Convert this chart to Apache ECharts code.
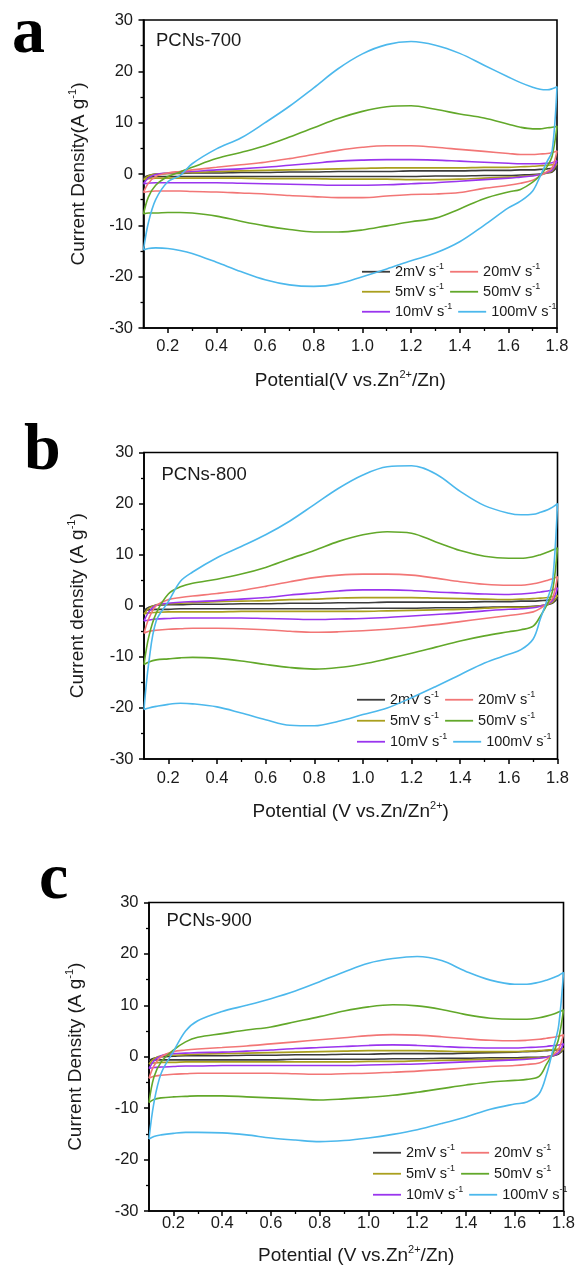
<!DOCTYPE html>
<html>
<head>
<meta charset="utf-8">
<title>PCNs cyclic voltammetry</title>
<script src="https://cdn.jsdelivr.net/npm/echarts@6/dist/echarts.min.js"></script>
<style>
  html, body { margin: 0; padding: 0; background: #ffffff; }
  #chart { width: 576px; height: 1276px; }
</style>
</head>
<body>
<div id="chart"></div>
<script>
// Potential grid (V) shared by the anodic (forward) and cathodic (reverse) branches
const POTENTIAL = [0.1, 0.12, 0.15, 0.2, 0.25, 0.3, 0.4, 0.5, 0.6, 0.7, 0.8, 0.9, 1.0,
  1.1, 1.2, 1.3, 1.4, 1.5, 1.6, 1.65, 1.7, 1.73, 1.76, 1.78, 1.8];

// Scan rates, in drawing order
const RATES = ['2mV s-1', '5mV s-1', '10mV s-1', '20mV s-1', '50mV s-1', '100mV s-1'];

// Axis ticks
const X_TICKS = [0.2, 0.4, 0.6, 0.8, 1.0, 1.2, 1.4, 1.6, 1.8];
const X_MINOR_TICKS = [0.3, 0.5, 0.7, 0.9, 1.1, 1.3, 1.5, 1.7];

// PCNs-700: current density (A g-1), one row per scan rate
const PCN700_ANODIC = [
  [-0.7, -0.3, 0.0, 0.1, 0.1, 0.2, 0.2, 0.3, 0.3, 0.4, 0.4, 0.5, 0.5, 0.5, 0.6, 0.6, 0.6, 0.7, 0.7, 0.8, 0.8, 0.9, 1.0, 1.1, 1.3],
  [-1.1, -0.4, 0.0, 0.1, 0.2, 0.3, 0.5, 0.6, 0.7, 0.8, 0.9, 1.0, 1.1, 1.2, 1.2, 1.2, 1.2, 1.3, 1.3, 1.4, 1.5, 1.6, 1.7, 1.8, 2.0],
  [-1.9, -0.8, -0.1, 0.2, 0.4, 0.5, 0.8, 1.0, 1.3, 1.7, 2.1, 2.5, 2.7, 2.8, 2.8, 2.7, 2.5, 2.3, 2.1, 2.0, 2.0, 2.0, 2.1, 2.2, 2.6],
  [-3.6, -1.8, -0.5, 0.2, 0.5, 0.8, 1.3, 1.8, 2.3, 3.0, 3.8, 4.6, 5.2, 5.5, 5.5, 5.2, 4.8, 4.4, 4.0, 3.8, 3.8, 3.9, 4.0, 4.2, 4.5],
  [-7.8, -4.5, -2.2, -0.5, 0.4, 1.3, 3.0, 4.2, 5.5, 7.2, 9.0, 10.8, 12.2, 13.1, 13.3, 12.6, 11.7, 10.9, 9.7, 9.1, 8.8, 8.8, 9.0, 9.1, 9.3],
  [-14.8, -9.5, -5.0, -1.5, -0.3, 2.0, 4.9, 7.0, 10.0, 13.2, 16.8, 20.5, 23.4, 25.2, 25.8, 25.1, 23.5, 21.2, 18.9, 17.8, 16.9, 16.5, 16.4, 16.6, 17.0]
];
const PCN700_CATHODIC = [
  [-0.7, -0.6, -0.5, -0.5, -0.5, -0.5, -0.5, -0.5, -0.5, -0.5, -0.5, -0.5, -0.5, -0.5, -0.5, -0.4, -0.4, -0.3, -0.3, -0.2, -0.1, 0.0, 0.2, 0.4, 1.3],
  [-1.1, -0.9, -0.8, -0.8, -0.8, -0.8, -0.8, -0.8, -0.9, -0.9, -0.9, -1.0, -1.0, -1.0, -1.1, -1.1, -1.0, -0.8, -0.6, -0.5, -0.3, -0.1, 0.2, 0.6, 2.0],
  [-1.9, -1.8, -1.7, -1.7, -1.7, -1.7, -1.7, -1.8, -1.9, -2.0, -2.1, -2.2, -2.2, -2.1, -1.9, -1.7, -1.4, -1.1, -0.8, -0.6, -0.4, -0.1, 0.3, 0.8, 2.6],
  [-3.6, -3.4, -3.3, -3.3, -3.3, -3.4, -3.5, -3.7, -3.9, -4.2, -4.4, -4.6, -4.6, -4.3, -4.0, -3.9, -3.6, -2.8, -2.2, -1.8, -1.2, -0.4, 0.5, 1.2, 4.5],
  [-7.8, -7.6, -7.6, -7.5, -7.5, -7.6, -8.2, -9.2, -10.1, -10.8, -11.3, -11.3, -10.9, -10.1, -9.3, -8.6, -6.8, -4.8, -3.5, -3.0, -1.6, -0.3, 1.5, 3.5, 9.3],
  [-14.8, -14.5, -14.4, -14.5, -14.9, -15.5, -17.2, -19.0, -20.6, -21.6, -21.9, -21.4, -20.0, -18.5, -16.9, -15.4, -13.2, -10.0, -6.6, -5.3, -3.3, -0.5, 2.5, 4.5, 17.0]
];

// PCNs-800
const PCN800_ANODIC = [
  [-0.9, -0.3, 0.1, 0.2, 0.2, 0.3, 0.3, 0.4, 0.4, 0.5, 0.5, 0.6, 0.6, 0.7, 0.7, 0.7, 0.7, 0.8, 0.8, 0.9, 0.9, 1.0, 1.1, 1.2, 1.4],
  [-1.6, -0.5, 0.2, 0.4, 0.5, 0.6, 0.8, 0.9, 1.0, 1.2, 1.3, 1.5, 1.6, 1.6, 1.6, 1.5, 1.4, 1.3, 1.2, 1.3, 1.4, 1.5, 1.6, 1.8, 2.0],
  [-3.0, -1.2, 0.1, 0.5, 0.7, 0.8, 1.0, 1.3, 1.6, 2.1, 2.5, 2.9, 3.1, 3.1, 3.0, 2.7, 2.5, 2.3, 2.2, 2.3, 2.5, 2.7, 2.9, 3.1, 3.5],
  [-5.4, -2.5, 0.0, 1.2, 1.6, 1.9, 2.4, 3.0, 3.8, 4.7, 5.5, 6.0, 6.2, 6.2, 6.0, 5.4, 4.7, 4.2, 4.0, 4.0, 4.3, 4.6, 5.0, 5.3, 5.7],
  [-11.5, -6.0, -1.5, 2.3, 3.7, 4.4, 5.2, 6.2, 7.5, 9.2, 10.8, 12.6, 13.9, 14.5, 14.2, 12.5, 10.8, 9.7, 9.3, 9.3, 9.6, 10.0, 10.5, 10.9, 11.3],
  [-20.3, -11.0, -3.0, 0.8, 4.8, 6.6, 9.4, 11.6, 13.9, 16.6, 19.8, 23.0, 25.6, 27.2, 27.4, 25.8, 22.4, 19.6, 18.1, 17.8, 17.9, 18.3, 18.8, 19.3, 20.0]
];
const PCN800_CATHODIC = [
  [-0.9, -0.8, -0.7, -0.7, -0.6, -0.6, -0.6, -0.6, -0.6, -0.6, -0.6, -0.6, -0.5, -0.5, -0.5, -0.4, -0.4, -0.3, -0.2, -0.2, -0.1, 0.0, 0.2, 0.5, 1.4],
  [-1.6, -1.4, -1.3, -1.2, -1.2, -1.2, -1.2, -1.1, -1.1, -1.1, -1.1, -1.1, -1.1, -1.0, -0.9, -0.8, -0.7, -0.5, -0.3, -0.3, -0.2, 0.0, 0.3, 0.7, 2.0],
  [-3.0, -2.8, -2.6, -2.5, -2.4, -2.4, -2.4, -2.4, -2.5, -2.6, -2.7, -2.6, -2.5, -2.3, -2.0, -1.7, -1.4, -1.0, -0.7, -0.6, -0.4, -0.1, 0.4, 1.0, 3.5],
  [-5.4, -5.0, -4.8, -4.6, -4.5, -4.4, -4.4, -4.5, -4.7, -5.0, -5.2, -5.1, -4.9, -4.6, -4.2, -3.7, -3.1, -2.5, -1.9, -1.6, -1.2, -0.5, 0.5, 1.5, 5.7],
  [-11.5, -11.0, -10.6, -10.4, -10.2, -10.1, -10.3, -10.8, -11.5, -12.1, -12.4, -12.1, -11.4, -10.4, -9.3, -8.1, -6.9, -5.9, -5.1, -4.7, -4.0, -2.0, 0.5, 3.0, 11.3],
  [-20.3, -20.0, -19.7, -19.3, -19.1, -19.2, -19.8, -21.0, -22.3, -23.4, -23.5, -22.6, -21.3, -20.0, -18.0, -15.8, -13.5, -11.2, -9.5, -8.6, -6.5, -2.5, 1.5, 5.0, 20.0]
];

// PCNs-900
const PCN900_ANODIC = [
  [-0.7, -0.3, 0.0, 0.1, 0.2, 0.2, 0.2, 0.3, 0.3, 0.4, 0.4, 0.5, 0.5, 0.6, 0.6, 0.6, 0.7, 0.8, 0.9, 1.0, 1.1, 1.2, 1.3, 1.3, 1.4],
  [-1.4, -0.4, 0.2, 0.3, 0.4, 0.5, 0.6, 0.7, 0.8, 0.9, 1.0, 1.1, 1.2, 1.2, 1.2, 1.1, 1.0, 1.0, 1.0, 1.1, 1.2, 1.3, 1.4, 1.5, 1.6],
  [-2.3, -0.8, 0.2, 0.6, 0.7, 0.8, 0.9, 1.1, 1.3, 1.6, 1.8, 2.0, 2.2, 2.3, 2.2, 2.0, 1.8, 1.7, 1.7, 1.8, 1.9, 2.0, 2.2, 2.3, 2.5],
  [-4.2, -1.8, 0.0, 1.0, 1.3, 1.5, 1.8, 2.1, 2.5, 2.9, 3.3, 3.7, 4.1, 4.3, 4.2, 3.9, 3.5, 3.2, 3.1, 3.2, 3.4, 3.6, 3.8, 4.0, 4.3],
  [-8.9, -4.0, -1.0, 1.3, 2.9, 3.8, 4.5, 5.2, 5.8, 6.8, 7.8, 8.9, 9.7, 10.1, 9.9, 9.2, 8.2, 7.5, 7.3, 7.3, 7.6, 7.9, 8.3, 8.7, 9.1],
  [-16.0, -9.0, -3.2, 1.0, 5.0, 7.0, 8.8, 10.0, 11.3, 12.8, 14.6, 16.5, 18.2, 19.1, 19.5, 18.7, 16.6, 14.9, 14.1, 14.1, 14.5, 14.9, 15.4, 15.8, 16.4]
];
const PCN900_CATHODIC = [
  [-0.7, -0.6, -0.6, -0.6, -0.6, -0.6, -0.6, -0.6, -0.6, -0.5, -0.5, -0.5, -0.5, -0.4, -0.4, -0.3, -0.3, -0.2, -0.2, -0.1, -0.1, 0.0, 0.2, 0.5, 1.4],
  [-1.4, -1.2, -1.1, -1.1, -1.0, -1.0, -1.0, -1.0, -1.0, -1.0, -1.0, -1.0, -0.9, -0.9, -0.8, -0.7, -0.6, -0.5, -0.4, -0.3, -0.2, 0.0, 0.3, 0.7, 1.6],
  [-2.3, -2.1, -2.0, -1.9, -1.8, -1.8, -1.7, -1.7, -1.7, -1.7, -1.7, -1.7, -1.6, -1.5, -1.4, -1.2, -1.0, -0.8, -0.6, -0.5, -0.3, -0.1, 0.3, 0.8, 2.5],
  [-4.2, -3.8, -3.6, -3.4, -3.3, -3.2, -3.2, -3.2, -3.2, -3.3, -3.4, -3.3, -3.2, -3.0, -2.8, -2.5, -2.2, -1.9, -1.7, -1.5, -1.2, -0.5, 0.5, 1.5, 4.3],
  [-8.9, -8.3, -8.0, -7.8, -7.7, -7.6, -7.6, -7.8, -8.0, -8.2, -8.4, -8.2, -7.9, -7.5, -6.9, -6.2, -5.5, -4.9, -4.6, -4.4, -3.8, -1.5, 1.0, 3.5, 9.1],
  [-16.0, -15.5, -15.2, -14.9, -14.7, -14.7, -14.8, -15.2, -15.8, -16.2, -16.5, -16.3, -15.8, -15.1, -14.2, -13.0, -11.7, -10.2, -9.2, -8.8, -7.2, -3.5, 2.0, 6.0, 16.4]
];

// Panel texts
const PANEL_TAGS = ['a', 'b', 'c'];
const SAMPLES = ['PCNs-700', 'PCNs-800', 'PCNs-900'];
const X_TITLES = [
  ['Potential(V vs.Zn', '2+', '/Zn)'],
  ['Potential (V vs.Zn/Zn', '2+', ')'],
  ['Potential (V vs.Zn', '2+', '/Zn)']
];
const Y_TITLES = [
  ['Current Density(A g', '-1', ')'],
  ['Current density (A g', '-1', ')'],
  ['Current Density (A g', '-1', ')']
];
const ANODIC = [PCN700_ANODIC, PCN800_ANODIC, PCN900_ANODIC];
const CATHODIC = [PCN700_CATHODIC, PCN800_CATHODIC, PCN900_CATHODIC];

// ---- styling and layout ----
const LINE_COLORS = ['#3c3c3c', '#aa9f1e', '#9a35ee', '#f27676', '#62a82a', '#4cb8ec'];
const FONT = '"Liberation Sans", Arial, sans-serif';
const LAYOUT = [
  { left: 143.5, right: 19, top: 20, height: 308, xMargin: 10, xGap: 41, yGap: 53.5,
    legendLeft: 362, legendRows: [272, 292, 312], tagX: 12, tagY: 53, sampleX: 156, sampleY: 41 },
  { left: 144, right: 18.5, top: 452.5, height: 306.5, xMargin: 10.5, xGap: 41.5, yGap: 55,
    legendLeft: 357, legendRows: [700, 721, 742], tagX: 24, tagY: 470, sampleX: 161.5, sampleY: 475 },
  { left: 149, right: 12.5, top: 902.5, height: 308.5, xMargin: 4, xGap: 33, yGap: 62,
    legendLeft: 373, legendRows: [1153, 1174, 1195], tagX: 39, tagY: 899, sampleX: 166.5, sampleY: 921 }
];

function supRich(size, supSize) {
  return {
    t: { fontSize: size, lineHeight: size + 4, fontFamily: FONT, color: '#1a1a1a' },
    s: { fontSize: supSize, lineHeight: supSize + 1, fontFamily: FONT, color: '#1a1a1a', verticalAlign: 'top' }
  };
}
function supText(parts) {
  return '{t|' + parts[0] + '}{s|' + parts[1] + '}' + (parts[2] ? '{t|' + parts[2] + '}' : '');
}

// closed CV loop: forward scan then reverse scan
function loop(up, down) {
  const pts = [];
  for (let i = 0; i < POTENTIAL.length; i++) pts.push([POTENTIAL[i], up[i]]);
  for (let i = POTENTIAL.length - 2; i >= 0; i--) pts.push([POTENTIAL[i], down[i]]);
  return pts;
}

const grids = [], xAxes = [], yAxes = [], series = [], legends = [], graphics = [];

LAYOUT.forEach((L, p) => {
  grids.push({
    left: L.left, right: L.right, top: L.top, height: L.height,
    show: true, borderColor: '#000', borderWidth: 1.6, backgroundColor: 'transparent',
    containLabel: false, outerBoundsMode: 'none'
  });
  // main x axis
  xAxes.push({
    gridIndex: p, type: 'value', min: 0.1, max: 1.8,
    axisLine: { show: true, onZero: false, lineStyle: { color: '#000', width: 1.6 } },
    axisTick: { show: true, customValues: X_TICKS, length: 5, lineStyle: { color: '#000', width: 1.5 } },
    axisLabel: { customValues: X_TICKS, formatter: v => v.toFixed(1), margin: L.xMargin,
      fontSize: 16.5, fontFamily: FONT, color: '#1a1a1a' },
    splitLine: { show: false },
    name: supText(X_TITLES[p]), nameLocation: 'middle', nameGap: L.xGap,
    nameTextStyle: { rich: supRich(19, 11) }
  });
  // minor x ticks
  xAxes.push({
    gridIndex: p, type: 'value', min: 0.1, max: 1.8, position: 'bottom',
    axisLine: { show: false, onZero: false },
    axisTick: { show: true, customValues: X_MINOR_TICKS, length: 3, lineStyle: { color: '#000', width: 1.3 } },
    axisLabel: { show: false }, splitLine: { show: false }
  });
  yAxes.push({
    gridIndex: p, type: 'value', min: -30, max: 30, interval: 10,
    axisLine: { show: true, onZero: false, lineStyle: { color: '#000', width: 1.6 } },
    axisTick: { show: true, length: 5, lineStyle: { color: '#000', width: 1.5 } },
    minorTick: { show: true, splitNumber: 2, length: 3, lineStyle: { color: '#000', width: 1.3 } },
    axisLabel: { margin: 10.5, fontSize: 16.5, fontFamily: FONT, color: '#1a1a1a' },
    splitLine: { show: false }, minorSplitLine: { show: false },
    name: supText(Y_TITLES[p]), nameLocation: 'middle', nameGap: L.yGap, nameRotate: 90,
    nameTextStyle: { rich: supRich(19, 11) }
  });

  RATES.forEach((rate, r) => {
    series.push({
      type: 'line', name: rate, xAxisIndex: p * 2, yAxisIndex: p,
      data: loop(ANODIC[p][r], CATHODIC[p][r]),
      smooth: 0.35, symbol: 'none', showSymbol: false,
      lineStyle: { color: LINE_COLORS[r], width: 1.6 },
      itemStyle: { color: LINE_COLORS[r] },
      z: 2 + r, animation: false
    });
  });

  // legend: three rows of two entries, plain line keys
  L.legendRows.forEach((cy, row) => {
    legends.push({
      data: [RATES[row], RATES[row + 3]].map(n => ({ name: n, icon: 'rect' })),
      left: L.legendLeft, top: cy - 9.5, orient: 'horizontal', padding: 0,
      itemWidth: 28, itemHeight: 1.8, itemGap: 6, selectedMode: false,
      formatter: name => '{t|' + name.replace('s-1', 's') + '}{s|-1}',
      textStyle: { rich: supRich(14.5, 9) }
    });
  });

  graphics.push({
    type: 'text', left: L.tagX, top: L.tagY - 51,
    style: { text: PANEL_TAGS[p], font: 'bold 66px "Liberation Serif", "Times New Roman", serif', fill: '#000' }
  });
  graphics.push({
    type: 'text', left: L.sampleX, top: L.sampleY - 9.5,
    style: { text: SAMPLES[p], font: '18.5px ' + FONT, fill: '#1a1a1a' }
  });
});

const chart = echarts.init(document.getElementById('chart'), null, { renderer: 'canvas' });
chart.setOption({
  animation: false,
  backgroundColor: '#ffffff',
  grid: grids, xAxis: xAxes, yAxis: yAxes, series: series, legend: legends, graphic: graphics
});
</script>
</body>
</html>
